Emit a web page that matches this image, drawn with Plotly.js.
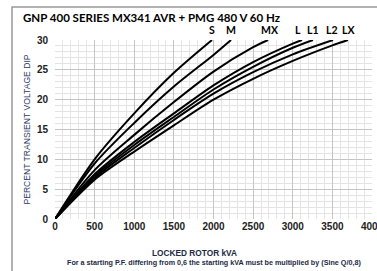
<!DOCTYPE html>
<html>
<head>
<meta charset="utf-8">
<script src="https://cdn.plot.ly/plotly-3.0.1.min.js"></script>
<style>html,body{margin:0;padding:0;background:#fff;}#chart{width:377px;height:271px;}</style>
</head>
<body>
<div id="chart"></div>
<script>
// Locked rotor kVA (x) vs percent transient voltage dip (y)
var seriesNames = ["S", "M", "MX", "L", "L1", "L2", "LX"];
var xS  = [0, 500, 1000, 1500, 1981];
var yS  = [0, 10.0, 17.7, 24.5, 30];
var xM  = [0, 500, 1000, 1500, 2000, 2221];
var yM  = [0, 9.3, 16.1, 22.2, 27.5, 30];
var xMX = [0, 500, 1000, 1500, 2000, 2500, 2688];
var yMX = [0, 8.2, 14.1, 19.6, 24.7, 28.8, 30];
var xL  = [0, 500, 1000, 1500, 2000, 2500, 3000, 3117];
var yL  = [0, 7.5, 12.9, 17.7, 22.4, 26.3, 29.4, 30];
var xL1 = [0, 500, 1000, 1500, 2000, 2500, 3000, 3255];
var yL1 = [0, 7.2, 12.4, 17.1, 21.7, 25.5, 28.7, 30];
var xL2 = [0, 500, 1000, 1500, 2000, 2500, 3000, 3508];
var yL2 = [0, 6.9, 11.9, 16.6, 21.0, 24.6, 27.6, 30];
var xLX = [0, 500, 1000, 1500, 2000, 2500, 3000, 3500, 3697];
var yLX = [0, 6.6, 11.3, 15.7, 20.0, 23.5, 26.5, 29.1, 30];
var xTicks = [0, 500, 1000, 1500, 2000, 2500, 3000, 3500, 4000];
var yTicks = [0, 5, 10, 15, 20, 25, 30];

var xs = [xS, xM, xMX, xL, xL1, xL2, xLX];
var ys = [yS, yM, yMX, yL, yL1, yL2, yLX];
var labelShift = [0, 0, 2, -4, 0, -1, 1];

var traces = [];
var annotations = [];
for (var i = 0; i < seriesNames.length; i++) {
  traces.push({
    x: xs[i], y: ys[i], type: "scatter", mode: "lines", name: seriesNames[i],
    line: {color: "#000", width: 2, shape: "spline", smoothing: 0.8},
    hoverinfo: "skip"
  });
  annotations.push({
    x: xs[i][xs[i].length - 1], y: ys[i][ys[i].length - 1], xref: "x", yref: "y",
    text: seriesNames[i], showarrow: false, yanchor: "bottom", xanchor: "center",
    yshift: 2, xshift: labelShift[i],
    font: {family: "Lato, 'Open Sans', sans-serif", size: 10.5, color: "#000", weight: "bold"}
  });
}
annotations.push({
  xref: "paper", yref: "paper", x: 0.44, y: -0.19, xanchor: "center", yanchor: "middle",
  text: "LOCKED ROTOR kVA", showarrow: false,
  font: {family: "Liberation Sans, Arial, sans-serif", size: 8.3, color: "#1a2a44", weight: "bold"}
});
annotations.push({
  xref: "paper", yref: "paper", x: 0.5, y: -0.243, xanchor: "center", yanchor: "middle",
  text: "For a starting P.F. differing from 0,6 the starting kVA must be multiplied by (Sine Q/0,8)", showarrow: false,
  font: {family: "Liberation Sans, Arial, sans-serif", size: 7.2, color: "#1a2a44", weight: "bold"}
});

var layout = {
  width: 377, height: 271,
  margin: {l: 55, r: 5, t: 40, b: 52},
  paper_bgcolor: "#fff", plot_bgcolor: "#fff",
  showlegend: false,
  title: {
    text: "<b>GNP 400 SERIES MX341 AVR + PMG 480 V 60 Hz</b>",
    x: 23 / 377, xanchor: "left", xref: "container", y: 1 - 18 / 271, yref: "container", yanchor: "middle",
    font: {family: "Lato, 'Open Sans', sans-serif", size: 11.5, color: "#000"}
  },
  xaxis: {
    range: [0, 4000], tickvals: xTicks, ticktext: xTicks.map(String),
    showgrid: true, gridcolor: "#c4c4c4", gridwidth: 1,
    minor: {dtick: 100, showgrid: true, gridcolor: "#e4e4e4", gridwidth: 1},
    zeroline: false, showline: false, ticks: "", ticklabeloverflow: "allow",
    tickfont: {family: "Liberation Sans, Arial, sans-serif", size: 10, color: "#222", weight: "bold"},
    fixedrange: true
  },
  yaxis: {
    range: [0, 30], tickvals: yTicks, ticktext: yTicks.map(String),
    showgrid: true, gridcolor: "#c4c4c4", gridwidth: 1,
    minor: {dtick: 1, showgrid: true, gridcolor: "#e4e4e4", gridwidth: 1},
    zeroline: false, showline: false, ticks: "", ticklabelstandoff: 6,
    tickfont: {family: "Liberation Sans, Arial, sans-serif", size: 10, color: "#222", weight: "bold"},
    title: {text: "PERCENT TRANSIENT VOLTAGE DIP", standoff: 4,
      font: {family: "Liberation Sans, Arial, sans-serif", size: 8.6, color: "#1f3a66"}},
    fixedrange: true
  },
  annotations: annotations,
  shapes: [{
    type: "rect", xref: "paper", yref: "paper",
    x0: (12 - 55) / 317, x1: (400 - 55) / 317, y0: -1, y1: 1 + (40 - 7) / 179,
    line: {color: "#999", width: 1.5}, fillcolor: "rgba(0,0,0,0)", layer: "below"
  }]
};

Plotly.newPlot("chart", traces, layout, {displayModeBar: false, staticPlot: true});
</script>
</body>
</html>
